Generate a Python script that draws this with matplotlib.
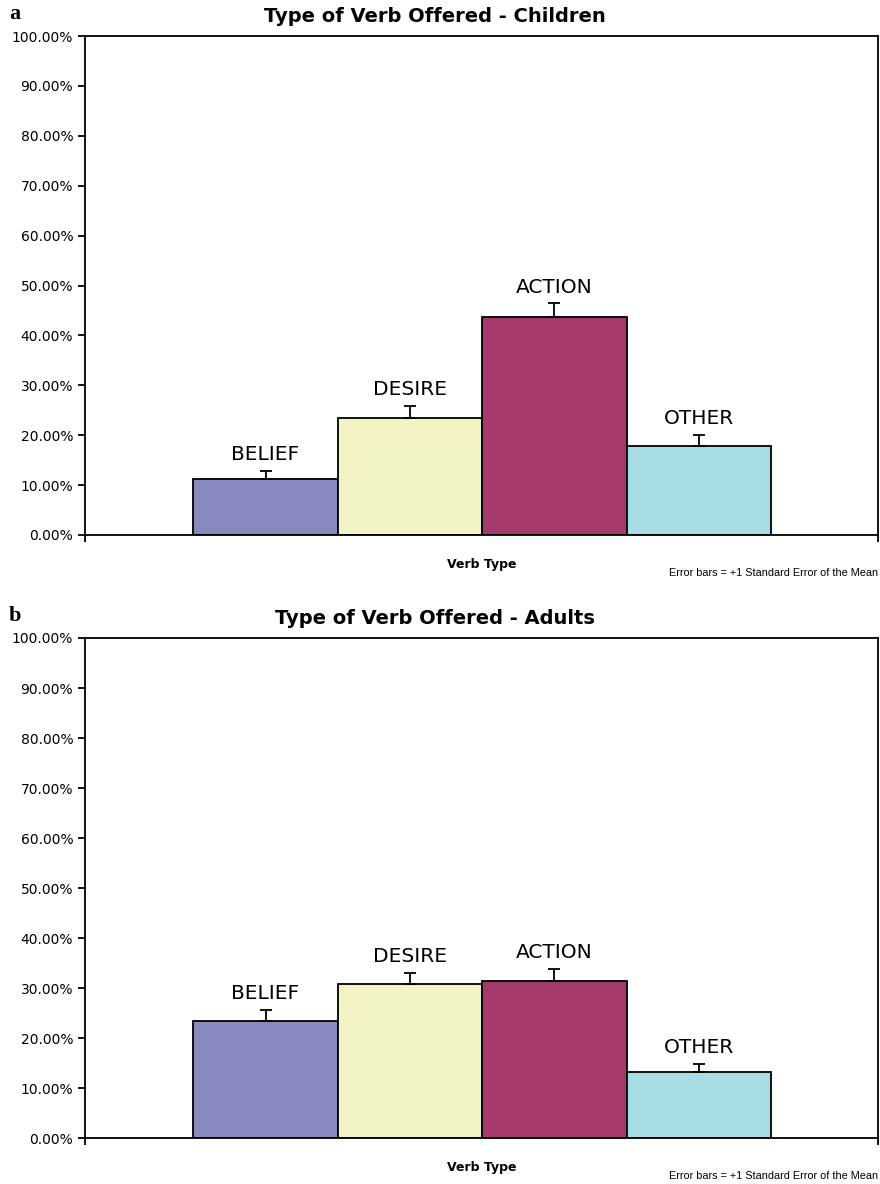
import matplotlib.pyplot as plt
import numpy as np

# values (percent)
verbs = ['BELIEF', 'DESIRE', 'ACTION', 'OTHER']
children = [11.3, 23.5, 43.7, 17.9]
children_se = [1.6, 2.4, 2.7, 2.2]
adults = [23.5, 30.9, 31.5, 13.2]
adults_se = [2.2, 2.2, 2.3, 1.7]

bar_colors = ['#8989C0', '#F2F4C6', '#A4396B', '#A8DDE6']
yticks = [0, 10, 20, 30, 40, 50, 60, 70, 80, 90, 100]

W, H = 880, 1184
fig = plt.figure(figsize=[W/100., H/100.], dpi=100)
plt.rcParams['font.family'] = 'DejaVu Sans'


def panel(top_px, bottom_px, vals, errs, title, letter, title_px):
    ax = fig.add_axes([85./W, 1-bottom_px/H, (878.-85.)/W, (bottom_px-top_px)/H])
    x = np.arange(len(vals))
    ax.bar(x, vals, width=1.0, color=bar_colors, edgecolor='k', linewidth=1.3, zorder=2)
    ax.errorbar(x, vals, yerr=[np.zeros(len(errs)), errs], fmt='none', ecolor='k',
                elinewidth=1.3, capsize=4, capthick=1.3, zorder=3)
    for i in range(len(vals)):
        ax.annotate(verbs[i], xy=(x[i], vals[i]+errs[i]), xytext=(0, 5),
                    textcoords='offset points', ha='center', va='bottom', fontsize=14.5)
    ax.set_xlim(-1.25, 4.24)
    ax.set_ylim(0, 100)
    ax.set_yticks(yticks)
    ax.set_yticklabels(['%.2f%%' % t for t in yticks], fontsize=10)
    ax.set_xticks([-1.25, 4.24])
    ax.set_xticklabels(['', ''])
    ax.tick_params(direction='out', length=5, width=1.3, color='k')
    for s in ax.spines.values():
        s.set_linewidth(1.3)
    ax.set_xlabel('Verb Type', fontsize=9, fontweight='bold', labelpad=8)
    fig.text(435./W, 1-title_px/H, title, ha='center', va='center',
             fontsize=14, fontweight='bold')
    fig.text(9./W, 1-(title_px-2)/H, letter, ha='left', va='center',
             fontsize=16, fontweight='bold', family='Liberation Serif')
    fig.text(878./W, 1-(bottom_px+38)/H, 'Error bars = +1 Standard Error of the Mean',
             ha='right', va='center', fontsize=7.8, family='Liberation Sans')
    return ax


panel(36, 535, children, children_se, 'Type of Verb Offered - Children', 'a', 16)
panel(638, 1138, adults, adults_se, 'Type of Verb Offered - Adults', 'b', 618)

plt.savefig('out.png', dpi=100, facecolor='w')
